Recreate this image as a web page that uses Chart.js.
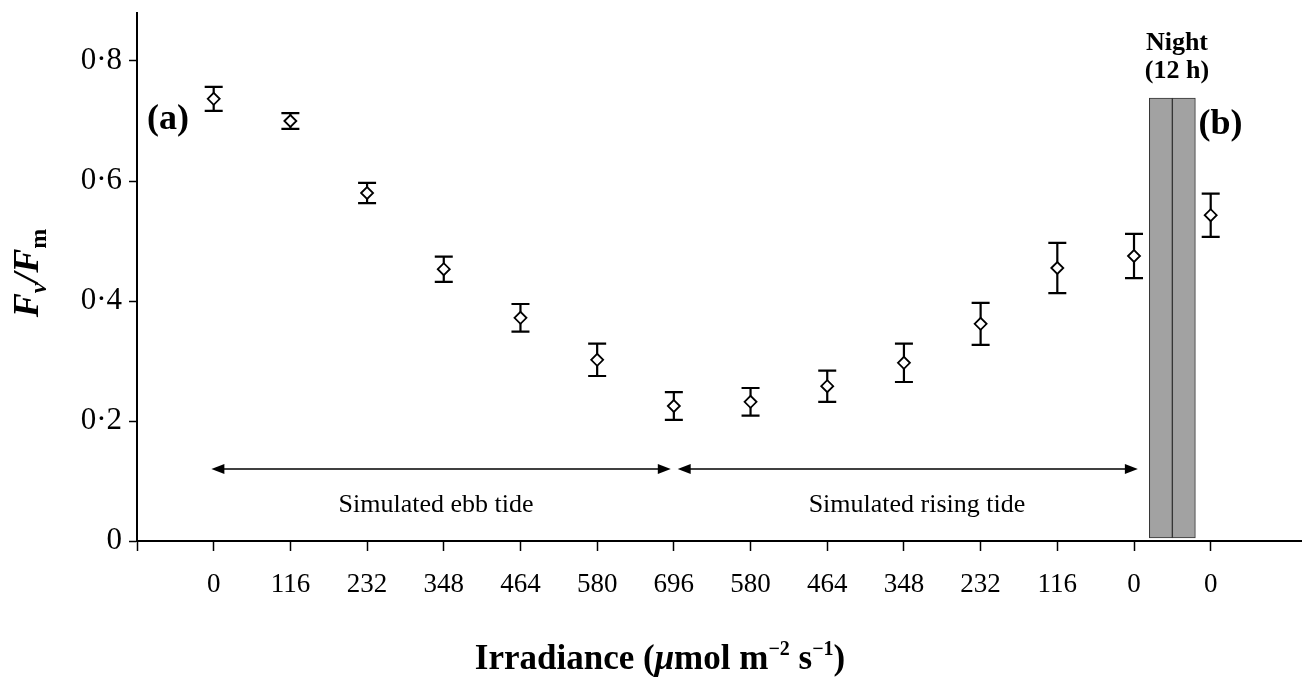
<!DOCTYPE html>
<html>
<head>
<meta charset="utf-8">
<script src="https://cdn.jsdelivr.net/npm/chart.js@4.4.0/dist/chart.umd.min.js"></script>
<style>
  html, body { margin: 0; padding: 0; background: #fff; }
  #wrap { width: 1309px; height: 677px; }
</style>
</head>
<body>
<div id="wrap"><canvas id="chart"></canvas></div>
<script>
// Irradiance steps (positions 0..12 = tide cycle, 13 = after the night)
const irradianceLabels = ['0', '116', '232', '348', '464', '580', '696', '580', '464', '348', '232', '116', '0', '0'];
const fvFm    = [0.737, 0.700, 0.580, 0.453, 0.372, 0.302, 0.225, 0.232, 0.258, 0.297, 0.362, 0.455, 0.475, 0.543];
const fvFmErr = [0.020, 0.013, 0.017, 0.021, 0.023, 0.027, 0.023, 0.023, 0.026, 0.032, 0.035, 0.042, 0.037, 0.036];
const yTicks = [0, 0.2, 0.4, 0.6, 0.8];
const nightRange = [0.005, 0.738];   // grey night block, low/high
const nightAfterStep = 12;           // night sits between step 12 and 13

const SERIF = "'Liberation Serif', 'Times New Roman', serif";

const points = fvFm.map((v, i) => ({ x: i, y: v }));
const nightData = [
  { x: nightAfterStep + 0.35, y: nightRange },
  { x: nightAfterStep + 0.65, y: nightRange }
];

// error bars, drawn under the diamonds
const errorBars = {
  id: 'errorBars',
  beforeDatasetsDraw(chart) {
    const { ctx, scales: { x, y } } = chart;
    ctx.save();
    ctx.strokeStyle = '#000';
    ctx.lineWidth = 2.2;
    fvFm.forEach((v, i) => {
      const px = x.getPixelForValue(i);
      const top = y.getPixelForValue(v + fvFmErr[i]);
      const bot = y.getPixelForValue(v - fvFmErr[i]);
      ctx.beginPath();
      ctx.moveTo(px, top); ctx.lineTo(px, bot);
      ctx.moveTo(px - 9, top); ctx.lineTo(px + 9, top);
      ctx.moveTo(px - 9, bot); ctx.lineTo(px + 9, bot);
      ctx.stroke();
    });
    ctx.restore();
  }
};

function arrow(ctx, x1, x2, yy) {
  ctx.beginPath();
  ctx.moveTo(x1 + 10, yy); ctx.lineTo(x2 - 10, yy);
  ctx.stroke();
  [[x1, 1], [x2, -1]].forEach(([tip, dir]) => {
    ctx.beginPath();
    ctx.moveTo(tip, yy);
    ctx.lineTo(tip + dir * 13, yy - 5);
    ctx.lineTo(tip + dir * 13, yy + 5);
    ctx.closePath();
    ctx.fill();
  });
}

// draw runs of text with different styles (sub/superscripts)
function drawRuns(ctx, runs, x, y) {
  let cx = x;
  runs.forEach(r => {
    ctx.font = r.font;
    ctx.fillText(r.t, cx, y + (r.dy || 0));
    cx += ctx.measureText(r.t).width + (r.gap || 0);
  });
  return cx - x;
}
function runsWidth(ctx, runs) {
  let w = 0;
  runs.forEach(r => { ctx.font = r.font; w += ctx.measureText(r.t).width + (r.gap || 0); });
  return w;
}

const annotations = {
  id: 'annotations',
  afterDraw(chart) {
    const { ctx, scales: { x, y } } = chart;
    ctx.save();
    ctx.fillStyle = '#000';
    ctx.strokeStyle = '#000';
    ctx.lineWidth = 1.5;

    // tide arrows
    const ay = y.getPixelForValue(0.12);
    arrow(ctx, x.getPixelForValue(-0.03), x.getPixelForValue(5.96), ay);
    arrow(ctx, x.getPixelForValue(6.05), x.getPixelForValue(12.05), ay);

    ctx.font = '26px ' + SERIF;
    ctx.textAlign = 'center';
    ctx.textBaseline = 'alphabetic';
    ctx.fillText('Simulated ebb tide', x.getPixelForValue(2.9), y.getPixelForValue(0.048));
    ctx.fillText('Simulated rising tide', x.getPixelForValue(9.17), y.getPixelForValue(0.048));

    // panel letters
    ctx.font = 'bold 36px ' + SERIF;
    ctx.textAlign = 'left';
    ctx.fillText('(a)', x.getPixelForValue(-0.87), y.getPixelForValue(0.687));
    ctx.fillText('(b)', x.getPixelForValue(12.84), y.getPixelForValue(0.678));

    // night label
    ctx.font = 'bold 26px ' + SERIF;
    ctx.textAlign = 'center';
    const nx = x.getPixelForValue(12.56);
    ctx.fillText('Night', nx, y.getPixelForValue(0.818));
    ctx.fillText('(12 h)', nx, y.getPixelForValue(0.772));

    // y title: Fv/Fm
    const big = 'italic bold 36px ' + SERIF;
    const subI = 'italic bold 24px ' + SERIF;
    const subB = 'bold 24px ' + SERIF;
    const yRuns = [
      { t: 'F', font: big },
      { t: 'v', font: subI, dy: 8 },
      { t: '/', font: big },
      { t: 'F', font: big },
      { t: 'm', font: subB, dy: 8 }
    ];
    ctx.save();
    ctx.translate(38, 273);
    ctx.rotate(-Math.PI / 2);
    ctx.textAlign = 'left';
    drawRuns(ctx, yRuns, -runsWidth(ctx, yRuns) / 2, 0);
    ctx.restore();

    // x title: Irradiance (µmol m-2 s-1)
    const xb = 'bold 35px ' + SERIF;
    const xi = 'italic bold 35px ' + SERIF;
    const sup = 'bold 20px ' + SERIF;
    const xRuns = [
      { t: 'Irradiance (', font: xb },
      { t: 'μ', font: xi },
      { t: 'mol m', font: xb },
      { t: '−2', font: sup, dy: -14 },
      { t: ' s', font: xb },
      { t: '−1', font: sup, dy: -14 },
      { t: ')', font: xb }
    ];
    ctx.textAlign = 'left';
    const xw = runsWidth(ctx, xRuns);
    drawRuns(ctx, xRuns, 660 - xw / 2, 669);

    ctx.restore();
  }
};

new Chart(document.getElementById('chart'), {
  data: {
    datasets: [
      {
        type: 'scatter',
        data: points,
        pointStyle: 'rectRot',
        pointRadius: 6,
        pointBackgroundColor: '#fff',
        pointBorderColor: '#000',
        pointBorderWidth: 1.8,
        order: 0
      },
      {
        type: 'bar',
        data: nightData,
        backgroundColor: '#a2a2a2',
        borderColor: '#333',
        borderWidth: 1,
        borderSkipped: false,
        barThickness: 23,
        grouped: false,
        order: 1
      }
    ]
  },
  options: {
    responsive: true,
    maintainAspectRatio: false,
    animation: false,
    layout: { padding: { top: 13, right: 0, left: 0, bottom: 0 } },
    plugins: {
      legend: { display: false },
      tooltip: { enabled: false },
      title: { display: false }
    },
    scales: {
      x: {
        type: 'linear',
        min: -1,
        max: 14.18,
        offset: false,
        afterBuildTicks: (scale) => {
          scale.ticks = irradianceLabels.map((_, i) => ({ value: i }));
          scale.ticks.unshift({ value: -1 });
        },
        afterFit: (scale) => {
          scale.height = 136;
          scale.paddingLeft = 0;
          scale.paddingRight = 0;
        },
        ticks: {
          autoSkip: false,
          maxRotation: 0,
          padding: 18,
          color: '#000',
          font: { family: SERIF, size: 27 },
          callback: (v) => irradianceLabels[v] ?? ''
        },
        grid: { offset: false, drawOnChartArea: false, drawTicks: true, tickLength: 10, color: '#000', tickWidth: 1.5 },
        border: { color: '#000', width: 2 }
      },
      y: {
        min: 0,
        max: 0.88,
        afterBuildTicks: (scale) => { scale.ticks = yTicks.map(v => ({ value: v })); },
        afterFit: (scale) => {
          scale.width = 137;
          scale.paddingTop = 0;
          scale.paddingBottom = 0;
        },
        ticks: {
          padding: 7,
          color: '#000',
          font: { family: SERIF, size: 31 },
          callback: (v) => v === 0 ? '0' : v.toFixed(1).replace('.', '·')
        },
        grid: { drawOnChartArea: false, drawTicks: true, tickLength: 8, color: '#000', tickWidth: 1.5 },
        border: { color: '#000', width: 2 }
      }
    }
  },
  plugins: [errorBars, annotations]
});
</script>
</body>
</html>
